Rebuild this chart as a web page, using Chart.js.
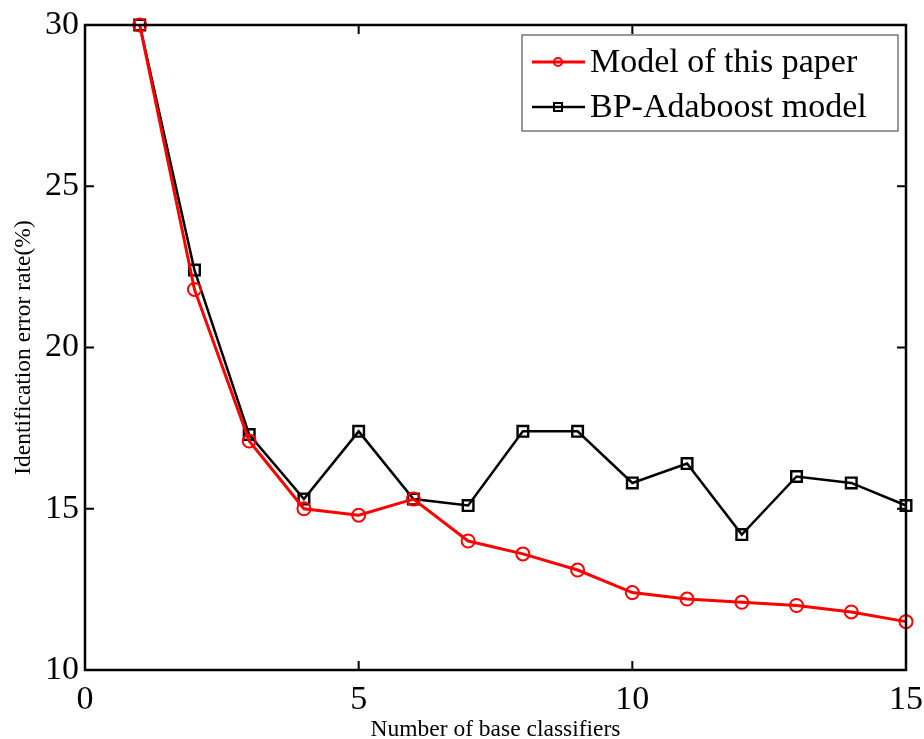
<!DOCTYPE html>
<html>
<head>
<meta charset="utf-8">
<script src="https://cdn.jsdelivr.net/npm/chart.js@4"></script>
<style>
  html, body { margin: 0; padding: 0; background: #fff; }
  #wrap { width: 924px; height: 739px; }
</style>
</head>
<body>
<div id="wrap"><canvas id="c" width="924" height="739"></canvas></div>
<script>
const xValues = [1, 2, 3, 4, 5, 6, 7, 8, 9, 10, 11, 12, 13, 14, 15];
const modelThisPaper = [30, 21.8, 17.1, 15.0, 14.8, 15.3, 14.0, 13.6, 13.1, 12.4, 12.2, 12.1, 12.0, 11.8, 11.5];
const bpAdaboost = [30, 22.4, 17.3, 15.3, 17.4, 15.3, 15.1, 17.4, 17.4, 15.8, 16.4, 14.2, 16.0, 15.8, 15.1];
const seriesLabels = ['Model of this paper', 'BP-Adaboost model'];
const xTickValues = [0, 5, 10, 15];
const yTickValues = [10, 15, 20, 25, 30];
const xTitle = 'Number of base classifiers';
const yTitle = 'Identification error rate(%)';

const FONT = '"Liberation Serif", "Times New Roman", serif';

function toPoints(xs, ys) { return xs.map((x, i) => ({ x: x, y: ys[i] })); }

const framePlugin = {
  id: 'frame',
  afterDraw(chart) {
    const ctx = chart.ctx;
    const a = chart.chartArea;
    const xs = chart.scales.x, ys = chart.scales.y;
    ctx.save();
    ctx.strokeStyle = '#000';
    ctx.lineWidth = 2.5;
    ctx.strokeRect(a.left, a.top, a.right - a.left, a.bottom - a.top);
    ctx.lineWidth = 2;
    const tl = 9;
    ctx.beginPath();
    xTickValues.forEach(v => {
      const px = xs.getPixelForValue(v);
      ctx.moveTo(px, a.bottom); ctx.lineTo(px, a.bottom - tl);
      ctx.moveTo(px, a.top); ctx.lineTo(px, a.top + tl);
    });
    yTickValues.forEach(v => {
      const py = ys.getPixelForValue(v);
      ctx.moveTo(a.left, py); ctx.lineTo(a.left + tl, py);
      ctx.moveTo(a.right, py); ctx.lineTo(a.right - tl, py);
    });
    ctx.stroke();

    // legend
    const lx = 522, ly = 35, lw = 376, lh = 96;
    ctx.fillStyle = '#fff';
    ctx.fillRect(lx, ly, lw, lh);
    ctx.strokeStyle = '#555';
    ctx.lineWidth = 1.2;
    ctx.strokeRect(lx, ly, lw, lh);
    const rows = [62, 107];
    chart.data.datasets.forEach((ds, i) => {
      const y = rows[i];
      ctx.strokeStyle = ds.borderColor;
      ctx.lineWidth = ds.borderWidth;
      ctx.beginPath();
      ctx.moveTo(532, y); ctx.lineTo(585, y);
      ctx.stroke();
      ctx.lineWidth = 2;
      ctx.beginPath();
      if (ds.pointStyle === 'circle') {
        ctx.arc(558, y, 4, 0, Math.PI * 2);
      } else {
        ctx.rect(554, y - 4, 8, 8);
      }
      ctx.stroke();
      ctx.fillStyle = '#000';
      ctx.font = '34px ' + FONT;
      ctx.textBaseline = 'middle';
      ctx.textAlign = 'left';
      ctx.fillText(ds.label, 590, y + 1);
    });
    ctx.restore();
  }
};

new Chart(document.getElementById('c'), {
  type: 'line',
  data: {
    datasets: [
      {
        label: seriesLabels[0],
        data: toPoints(xValues, modelThisPaper),
        borderColor: '#ff0000',
        borderWidth: 3,
        pointStyle: 'circle',
        pointRadius: 6.5,
        pointBorderWidth: 2,
        pointBorderColor: '#ff0000',
        pointBackgroundColor: 'rgba(0,0,0,0)',
        tension: 0,
        clip: false
      },
      {
        label: seriesLabels[1],
        data: toPoints(xValues, bpAdaboost),
        borderColor: '#000000',
        borderWidth: 2.5,
        pointStyle: 'rect',
        pointRadius: 7.5,
        pointBorderWidth: 2.4,
        pointBorderColor: '#000000',
        pointBackgroundColor: 'rgba(0,0,0,0)',
        tension: 0,
        clip: false
      }
    ]
  },
  options: {
    responsive: false,
    animation: false,
    devicePixelRatio: 1,
    layout: { padding: { top: 25, right: 18, left: 0, bottom: 0 } },
    plugins: { legend: { display: false }, tooltip: { enabled: false } },
    scales: {
      x: {
        type: 'linear',
        min: 0, max: 15,
        afterFit(s) { s.height = 69; s.paddingLeft = 0; s.paddingRight = 0; },
        afterBuildTicks(s) { s.ticks = xTickValues.map(v => ({ value: v })); },
        grid: { display: false, drawTicks: false },
        border: { display: false },
        ticks: { color: '#000', font: { family: FONT, size: 34 }, padding: 10, maxRotation: 0 },
        title: { display: true, text: xTitle, color: '#000', font: { family: FONT, size: 23.5, lineHeight: 0.8 }, padding: { top: 0, bottom: 0 } }
      },
      y: {
        type: 'linear',
        min: 10, max: 30,
        afterFit(s) { s.width = 85; s.paddingTop = 0; s.paddingBottom = 0; },
        afterBuildTicks(s) { s.ticks = yTickValues.map(v => ({ value: v })); },
        grid: { display: false, drawTicks: false },
        border: { display: false },
        ticks: { color: '#000', font: { family: FONT, size: 34 }, padding: 6 },
        title: { display: true, text: yTitle, color: '#000', font: { family: FONT, size: 23.5 }, padding: { top: 10, bottom: 0 } }
      }
    }
  },
  plugins: [framePlugin]
});
</script>
</body>
</html>
